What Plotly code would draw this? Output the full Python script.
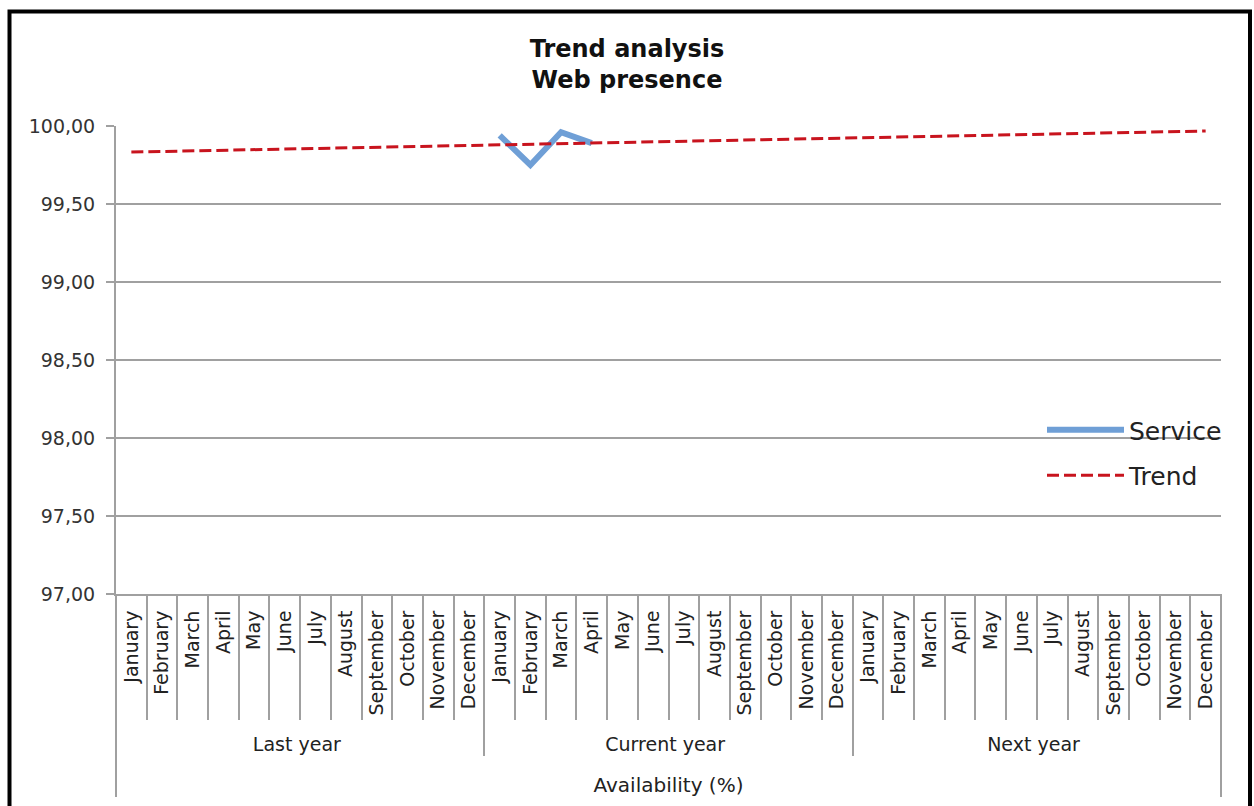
import plotly.graph_objects as go

years = ["Last year"] * 12 + ["Current year"] * 12 + ["Next year"] * 12
month_names = ["January", "February", "March", "April", "May", "June", "July",
               "August", "September", "October", "November", "December"]
months = month_names * 3

service = [None] * 12 + [99.94, 99.75, 99.96, 99.89] + [None] * 20

trend = [99.833, 99.837, 99.841, 99.845, 99.848, 99.852, 99.856, 99.860, 99.864,
         99.868, 99.872, 99.875, 99.879, 99.883, 99.887, 99.891, 99.895, 99.899,
         99.902, 99.906, 99.910, 99.914, 99.918, 99.922, 99.926, 99.929, 99.933,
         99.937, 99.941, 99.945, 99.949, 99.953, 99.956, 99.960, 99.964, 99.968]

FONT = "DejaVu Sans"
L, R, T, B = 116, 1221, 126, 594
PW, PH = R - L, B - T

# a leading no-break space leaves room below the rotated month labels
month_text = ["\u00a0" + m for m in months]

fig = go.Figure()
fig.add_trace(go.Scatter(
    x=[years, month_text], y=service, name="Service", mode="lines", legendgroup="s",
    line=dict(color="#6f9fd6", width=6), connectgaps=False,
))
fig.add_trace(go.Scatter(
    x=[years, month_text], y=trend, name="Trend", mode="lines", legendgroup="t",
    line=dict(color="#c8141e", width=3, dash="12px,5px"),
))

fig.update_layout(
    width=1254, height=806,
    paper_bgcolor="white", plot_bgcolor="white",
    margin=dict(l=L, r=1254 - R, t=T, b=806 - B),
    separators=",.",
    font=dict(family=FONT, size=18, color="#222222"),
    title=dict(
        text="<b>Trend analysis</b><br><b>Web presence</b>",
        x=0.5, xref="container", xanchor="center",
        y=1 - 57 / 806, yref="container", yanchor="top",
        font=dict(family=FONT, size=24, color="#111111"),
    ),
    legend=dict(
        x=(1042 - L) / PW, y=(B - 407) / PH, xanchor="left", yanchor="top",
        bgcolor="rgba(0,0,0,0)", font=dict(family=FONT, size=25, color="#222222"),
        itemwidth=77, tracegroupgap=10,
    ),
    showlegend=True,
)

fig.update_yaxes(
    range=[97, 100], dtick=0.5, tickformat=".2f",
    showgrid=True, gridcolor="#a0a0a0", gridwidth=2,
    showline=True, linecolor="#a0a0a0", linewidth=2,
    ticks="outside", ticklen=8, tickcolor="#a0a0a0", tickwidth=2,
    ticklabelstandoff=7,
    tickfont=dict(family=FONT, size=19, color="#333333"),
    zeroline=False,
)

fig.update_xaxes(
    type="multicategory",
    range=[-0.5, len(months) - 0.5],
    tickangle=-90,
    showline=True, linecolor="#a0a0a0", linewidth=2,
    ticks="outside", tickson="boundaries", ticklen=124, tickcolor="#a0a0a0", tickwidth=2,
    ticklabelstandoff=7,
    showdividers=True, dividercolor="#a0a0a0", dividerwidth=2,
    showgrid=False,
    tickfont=dict(family=FONT, size=19, color="#222222"),
    title=dict(text="Availability (%)", font=dict(family=FONT, size=20, color="#222222"),
               standoff=24),
)

# left and right edge lines of the category axis
for xp in (0, 1):
    fig.add_shape(
        type="line", xref="paper", yref="paper",
        x0=xp, x1=xp, y0=0, y1=(B - 797) / PH,
        line=dict(color="#a0a0a0", width=2),
    )

# outer frame of the picture
fig.add_shape(
    type="rect", xref="paper", yref="paper",
    x0=(9.5 - L) / PW, x1=(1250 - L) / PW,
    y0=(B - 830) / PH, y1=(B - 11.5) / PH,
    line=dict(color="black", width=4), fillcolor="rgba(0,0,0,0)", layer="above",
)

fig.write_html("out.html", config={"displayModeBar": False},
               post_script="document.body.style.margin='0';")
